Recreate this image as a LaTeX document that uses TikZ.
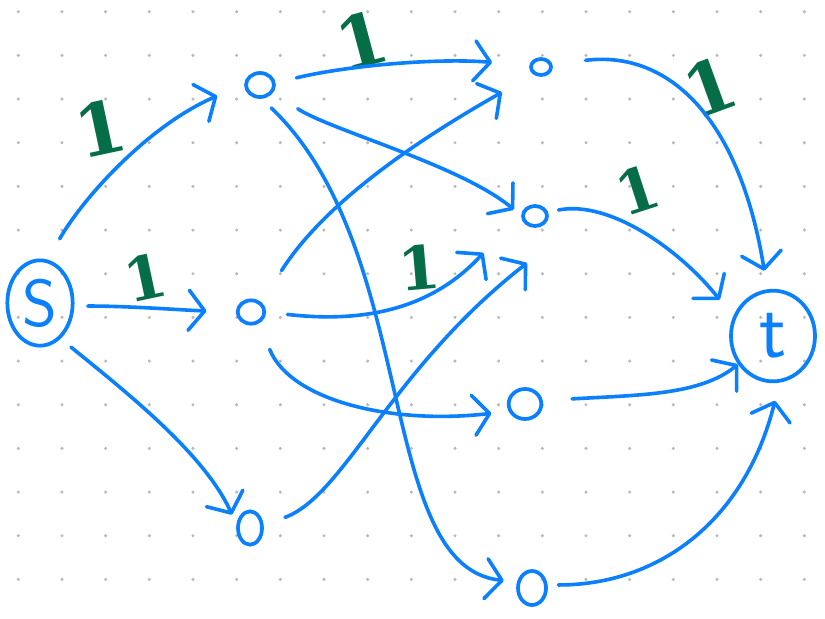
\documentclass[tikz,border=0pt]{standalone}
\usepackage{fontspec}
\newfontfamily\onefont{DejaVu Serif}
\usetikzlibrary{arrows.meta,shapes.geometric,calc}
\definecolor{pen}{RGB}{10,128,255}
\definecolor{ink}{RGB}{5,110,72}
\definecolor{dotc}{RGB}{185,185,185}
\begin{document}
\begin{tikzpicture}[x=0.75pt,y=-0.75pt,
  onode/.style={draw=pen, line width=2.8pt, ellipse, inner sep=0pt},
  bignode/.style={draw=pen, line width=2.8pt, ellipse, inner sep=0pt, text=pen},
  edge/.style={draw=pen, line width=2.7pt, line cap=round, line join=round,
    -{Straight Barb[length=12pt,width=30pt,line width=2.7pt,round]}},
  lbl/.style={text=ink, font=\onefont\bfseries\fontsize{54}{54}\selectfont, inner sep=0pt},
  slbl/.style={lbl, font=\onefont\bfseries\fontsize{45}{45}\selectfont}]
\fill[white] (0,0) rectangle (825,618);
\useasboundingbox (0,0) rectangle (825,618);
\foreach \i in {0,...,18} {\foreach \j in {0,...,13} {\fill[dotc] (18.3+43.67*\i, 11.7+43.67*\j) circle[radius=1.7];}}
% nodes
\node[bignode, minimum width=49pt, minimum height=64pt,
  font=\sffamily\fontsize{50}{50}\selectfont] (s) at (40,303) {\raisebox{-3pt}{S}};
\node[bignode, minimum width=63pt, minimum height=68pt,
  font=\sffamily\fontsize{60}{60}\selectfont] (t) at (773,336) {t};
\node[onode, minimum width=21pt, minimum height=18pt] (a) at (260,85) {};
\node[onode, minimum width=20pt, minimum height=17.5pt] (b) at (251,312) {};
\node[onode, minimum width=18pt, minimum height=25pt] (c) at (250,528) {};
\node[onode, minimum width=15pt, minimum height=12pt] (d) at (541,67) {};
\node[onode, minimum width=18pt, minimum height=15pt] (e) at (535,216) {};
\node[onode, minimum width=24.5pt, minimum height=22.5pt] (f) at (525,404) {};
\node[onode, minimum width=21pt, minimum height=25.5pt] (g) at (532,588) {};
% labels
\node[lbl, rotate=12] (l1) at (100,128) {1};
\node[lbl, rotate=15] (l2) at (362,40) {1};
\node[slbl, rotate=12] (l3) at (145,277) {1};
\node[slbl, rotate=5] (l4) at (419,267) {1};
\node[lbl, rotate=20] (l5) at (710,87) {1};
\node[slbl, rotate=18] (l6) at (637,190) {1};
% edges
\draw[edge, shorten <=18pt, shorten >=22pt] (s.80) .. controls (85,195) and (150,125) .. (a.177);
\draw[edge, shorten <=10pt, shorten >=22pt] (s.-5) .. controls (130,306) and (180,310) .. (b.180);
\draw[edge, shorten <=10pt, shorten >=8pt] (s.-60) .. controls (130,395) and (205,455) .. (c.165);
\draw[edge, shorten <=16pt, shorten >=28pt] (a.8) .. controls (350,65) and (440,58) .. (d.173);
\draw[edge, shorten <=22pt, shorten >=7pt] (a.-30) .. controls (330,130) and (460,165) .. (e.178);
\draw[edge, shorten <=10pt, shorten >=10pt] (a.-83) .. controls (420,250) and (375,567) .. (g.158);
\draw[edge, shorten <=28pt, shorten >=27pt] (b.43) .. controls (320,210) and (400,150) .. (d.224);
\draw[edge, shorten <=16pt, shorten >=44pt] (b.0) .. controls (380,325) and (440,300) .. (e.152);
\draw[edge, shorten <=21pt, shorten >=13pt] (b.-54) .. controls (290,400) and (390,425) .. (f.204);
\draw[edge, shorten <=17pt] (c.11) .. controls (345,495) and (390,370) .. ($(e.center)+(-8,47)$);
\draw[edge, shorten <=25pt, shorten >=14pt] (d.13) .. controls (670,50) and (740,120) .. (t.97);
\draw[edge, shorten <=8pt, shorten >=16pt] (e.17) .. controls (610,200) and (680,250) .. (t.154);
\draw[edge, shorten <=22pt, shorten >=0pt] (f.11) .. controls (640,395) and (700,395) .. (t.219);
\draw[edge, shorten <=8pt, shorten >=14pt] (g.11) .. controls (660,585) and (745,520) .. (t.-82);
\end{tikzpicture}
\end{document}
